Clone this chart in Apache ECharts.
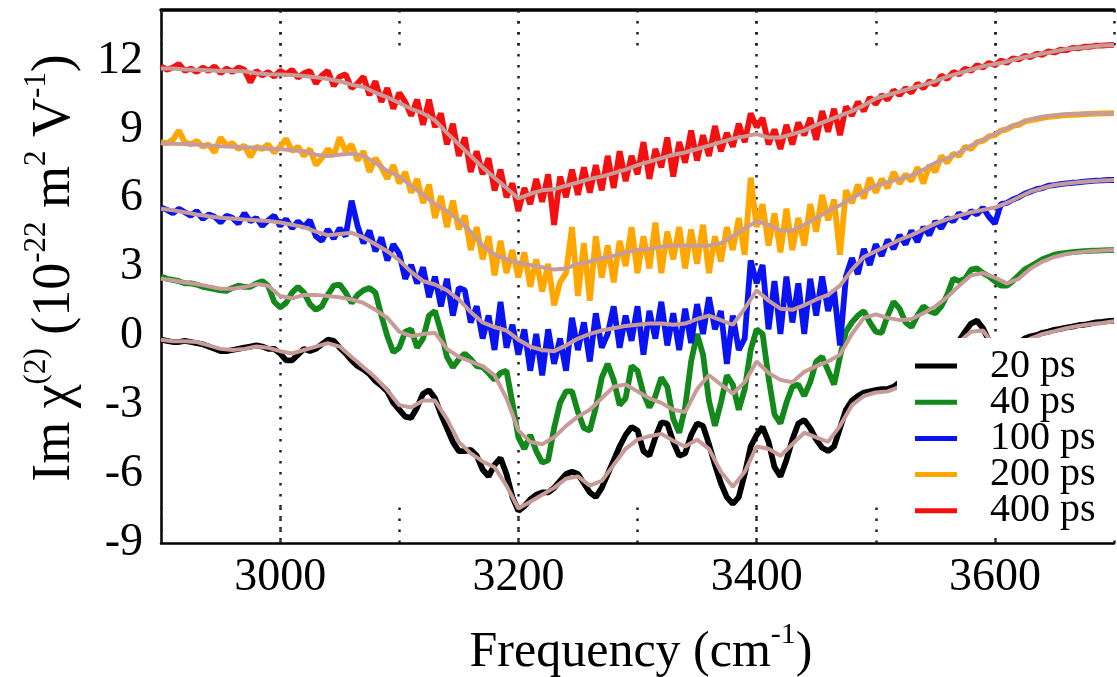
<!DOCTYPE html>
<html><head><meta charset="utf-8">
<script src="https://cdn.jsdelivr.net/npm/echarts@6/dist/echarts.min.js"></script>
<style>html,body{margin:0;padding:0;background:#fff;overflow:hidden}#c{width:1117px;height:677px}</style>
</head><body><div id="c"></div><script>
// Frequency grids (cm^-1)
const freqRaw = [2900,2905,2910,2915,2920,2925,2930,2935,2940,2945,2950,2955,2960,2965,2970,2975,2980,2985,2990,2995,
3000,3005,3010,3015,3020,3025,3030,3035,3040,3045,3050,3055,3060,3065,3070,3075,3080,3085,3090,3095,
3100,3105,3110,3115,3120,3125,3130,3135,3140,3145,3150,3155,3160,3165,3170,3175,3180,3185,3190,3195,
3200,3205,3210,3215,3220,3225,3230,3235,3240,3245,3250,3255,3260,3265,3270,3275,3280,3285,3290,3295,
3300,3305,3310,3315,3320,3325,3330,3335,3340,3345,3350,3355,3360,3365,3370,3375,3380,3385,3390,3395,
3400,3405,3410,3415,3420,3425,3430,3435,3440,3445,3450,3455,3460,3465,3470,3475,3480,3485,3490,3495,
3500,3505,3510,3515,3520,3525,3530,3535,3540,3545,3550,3555,3560,3565,3570,3575,3580,3585,3590,3595,
3600,3605,3610,3615,3620,3625,3630,3635,3640,3645,3650,3655,3660,3665,3670,3675,3680,3685,3690,3695,3700];
const freqSmooth = [2900,2910,2920,2930,2940,2950,2960,2970,2980,2990,3000,3010,3020,3030,3040,3050,3060,3070,3080,3090,
3100,3110,3120,3130,3140,3150,3160,3170,3180,3190,3200,3210,3220,3230,3240,3250,3260,3270,3280,3290,
3300,3310,3320,3330,3340,3350,3360,3370,3380,3390,3400,3410,3420,3430,3440,3450,3460,3470,3480,3490,
3500,3510,3520,3530,3540,3550,3560,3570,3580,3590,3600,3610,3620,3630,3640,3650,3660,3670,3680,3690,3700];

// Raw spectra (Im chi2, 1e-22 m^2/V)
const raw20 = [-0.15,-0.2,-0.25,-0.25,-0.2,-0.25,-0.3,-0.35,-0.45,-0.55,
-0.65,-0.65,-0.6,-0.55,-0.5,-0.45,-0.4,-0.45,-0.55,-0.55,
-0.75,-1.05,-1.05,-0.8,-0.55,-0.65,-0.55,-0.35,-0.15,-0.2,
-0.5,-0.75,-1.05,-1.3,-1.45,-1.65,-1.95,-2.15,-2.4,-2.9,
-3.2,-3.5,-3.55,-3.1,-2.5,-2.35,-2.7,-3.4,-4.0,-4.6,
-5.0,-5.0,-4.95,-5.2,-5.8,-6.1,-5.6,-5.3,-6.0,-7.0,
-7.6,-7.4,-7.1,-6.9,-6.8,-6.8,-6.6,-6.3,-6.0,-5.9,
-6.0,-6.4,-6.8,-7.0,-6.6,-6.0,-5.4,-4.8,-4.3,-3.95,
-4.1,-5.0,-5.2,-4.4,-3.75,-3.8,-4.6,-5.2,-5.1,-4.3,
-3.8,-3.9,-4.7,-5.6,-6.4,-7.0,-7.3,-7.0,-6.0,-4.8,
-4.3,-3.95,-4.6,-5.7,-6.1,-5.4,-4.5,-3.8,-3.65,-4.0,
-4.5,-4.85,-5.0,-4.8,-4.0,-3.2,-2.8,-2.6,-2.45,-2.4,
-2.35,-2.3,-2.3,-2.2,-2.0,-1.85,-1.7,-1.55,-1.4,-1.2,
-1.0,-0.8,-0.6,-0.45,-0.2,0.2,0.55,0.68,0.35,-0.2,
-0.6,-0.8,-0.75,-0.55,-0.3,-0.1,0.0,0.05,0.15,0.2,
0.28,0.32,0.38,0.42,0.48,0.5,0.55,0.6,0.62,0.66,0.68];
const raw40 = [2.6,2.5,2.45,2.4,2.3,2.3,2.25,2.15,2.1,2.05,
2.0,1.98,2.1,2.2,2.15,2.15,2.3,2.4,2.2,1.5,
1.25,1.45,1.9,2.15,1.9,1.4,1.15,1.3,1.8,2.2,
2.25,1.9,1.45,1.8,2.0,2.1,1.9,0.9,0.0,-0.7,
-0.5,0.2,0.3,-0.5,-0.1,0.9,1.1,0.2,-0.9,-1.35,
-1.0,-0.75,-1.0,-1.3,-1.35,-1.6,-1.9,-1.6,-1.5,-2.9,
-4.4,-4.9,-4.3,-5.0,-5.5,-5.4,-4.0,-2.9,-2.4,-2.4,
-3.3,-4.0,-4.1,-3.1,-1.8,-1.2,-1.9,-3.0,-2.7,-1.3,
-1.5,-2.5,-3.1,-2.6,-1.8,-2.2,-3.6,-4.2,-3.1,-1.1,
0.1,-0.8,-2.8,-3.9,-2.9,-1.7,-2.1,-3.2,-2.3,-0.6,
0.3,0.1,-1.8,-3.4,-3.8,-2.9,-2.2,-2.1,-2.6,-2.0,
-1.1,-0.9,-1.5,-2.1,-0.9,0.2,0.6,0.9,1.1,0.6,
0.2,0.15,0.9,1.5,1.2,0.6,0.4,0.9,1.3,1.1,
1.0,1.3,1.8,2.5,2.4,2.5,2.9,2.95,2.75,2.6,
2.4,2.2,2.2,2.4,2.65,2.9,3.05,3.2,3.35,3.45,
3.55,3.6,3.63,3.66,3.68,3.7,3.72,3.73,3.74,3.75,3.75];
const raw100 = [5.6,5.5,5.35,5.55,5.4,5.25,5.45,5.1,5.3,5.2,
4.95,5.25,5.15,4.9,5.35,5.0,5.15,4.8,5.05,5.25,
4.8,5.1,4.7,5.0,4.75,5.05,4.35,4.15,4.65,4.25,
4.7,4.35,5.9,4.8,4.05,4.6,3.7,4.3,3.3,4.0,
3.6,2.5,3.1,2.3,3.0,1.7,2.6,1.3,2.5,0.9,
2.1,2.0,0.6,1.3,-0.1,0.9,-0.6,1.5,-0.5,0.5,
-0.8,0.3,-1.5,0.1,-1.7,0.3,-1.2,-0.1,-1.5,0.8,
-0.6,0.6,-1.1,1.0,-0.5,0.1,1.3,-0.5,0.9,-0.2,
1.3,-0.8,1.1,-0.1,1.5,-0.4,1.0,-0.6,1.2,-0.3,
1.4,0.1,1.7,0.3,1.1,-1.2,0.9,-0.6,-0.1,3.3,
2.3,3.1,0.3,2.4,0.1,2.6,0.6,2.3,0.1,2.5,
0.9,2.6,1.1,2.0,-0.4,2.6,3.4,2.7,3.8,3.1,
4.0,3.5,4.2,3.8,4.4,4.0,4.6,4.1,4.75,4.4,
5.0,4.7,5.15,5.0,5.35,5.15,5.45,5.3,5.6,5.2,
4.9,5.75,5.8,5.95,6.05,6.2,6.3,6.4,6.45,6.55,
6.58,6.62,6.65,6.68,6.7,6.73,6.75,6.77,6.78,6.8,6.8];
const raw200 = [8.45,8.4,8.55,8.95,8.45,8.35,8.5,8.25,8.35,8.0,
8.65,8.3,8.4,8.15,8.3,7.8,8.25,8.15,8.35,8.0,
8.25,8.6,8.05,8.25,7.85,8.15,7.45,7.75,8.15,7.85,
8.65,8.05,8.35,7.65,8.05,7.15,7.75,7.35,6.85,7.45,
6.65,7.15,6.25,6.85,5.8,6.6,5.15,6.1,4.75,5.9,
4.65,5.25,3.75,4.75,3.35,4.35,2.65,4.15,2.75,3.75,
2.55,3.65,2.15,3.35,1.95,3.15,1.35,2.35,2.75,4.75,
1.75,4.05,1.55,4.35,2.55,3.95,2.35,4.15,3.05,4.75,
2.75,4.35,2.95,4.95,2.75,4.55,3.35,4.75,2.95,4.65,
3.15,4.85,2.75,4.35,3.25,4.75,3.75,5.15,3.55,6.9,
4.75,5.75,3.95,5.35,3.65,5.55,3.75,5.15,3.95,5.75,
4.55,6.15,5.05,5.95,3.55,6.35,5.8,6.6,6.0,6.9,
6.25,6.85,6.45,7.15,6.65,7.05,6.75,7.35,6.65,7.45,
7.15,7.85,7.55,7.95,7.85,8.25,8.15,8.45,8.5,8.7,
8.75,8.95,9.0,9.15,9.2,9.35,9.4,9.45,9.5,9.55,
9.57,9.6,9.62,9.64,9.65,9.67,9.68,9.69,9.7,9.7,9.71];
const raw400 = [11.75,11.6,11.7,11.85,11.55,11.65,11.5,11.7,11.55,11.75,
11.45,11.65,11.5,11.7,11.6,11.05,11.55,11.35,11.5,11.3,
11.55,11.4,11.6,11.25,11.45,11.55,11.0,11.35,11.55,10.9,
11.3,11.4,10.8,11.0,11.3,10.5,11.1,10.2,10.8,9.9,
10.6,10.2,9.6,10.3,9.2,10.3,9.1,9.7,8.35,9.25,
7.85,8.65,7.15,8.05,7.05,7.75,6.35,7.25,6.05,6.65,
5.45,6.45,5.75,6.85,5.85,7.05,4.85,6.95,6.05,7.25,
6.15,7.35,6.25,7.45,6.35,7.85,6.45,8.05,6.75,7.85,
7.05,8.45,6.85,8.15,7.35,8.65,6.95,8.45,7.55,8.95,
7.65,8.75,7.85,9.15,8.05,8.85,8.25,9.25,8.45,9.7,
9.1,9.5,8.35,9.0,8.15,9.2,8.35,9.3,8.75,9.5,
8.55,9.8,8.9,9.9,8.75,10.0,9.6,10.2,9.8,10.4,
10.1,10.5,10.3,10.7,10.5,10.8,10.6,11.0,10.8,11.1,
10.95,11.35,11.2,11.5,11.4,11.65,11.55,11.8,11.7,11.9,
11.8,12.0,11.9,12.1,12.05,12.2,12.15,12.3,12.25,12.4,
12.35,12.47,12.45,12.55,12.53,12.6,12.6,12.65,12.65,12.67,12.68];

// Smoothed spectra
const smooth20 = [-0.15,-0.22,-0.22,-0.25,-0.4,-0.55,-0.6,-0.55,-0.45,-0.5,
-0.65,-0.75,-0.6,-0.45,-0.3,-0.45,-0.9,-1.35,-1.8,-2.35,
-3.0,-3.1,-2.8,-2.8,-3.6,-4.6,-5.1,-5.45,-5.7,-6.5,
-7.5,-7.2,-6.9,-6.6,-6.2,-6.1,-6.5,-6.3,-5.6,-4.9,
-4.5,-4.35,-4.25,-4.55,-4.8,-4.5,-4.9,-5.9,-6.55,-5.9,
-4.8,-4.9,-5.2,-4.7,-4.2,-4.4,-4.6,-3.9,-3.0,-2.6,
-2.45,-2.4,-2.2,-1.8,-1.5,-1.1,-0.7,-0.25,0.2,0.25,
-0.45,-0.6,-0.35,-0.1,0.1,0.22,0.35,0.45,0.52,0.58,0.65];
const smooth40 = [2.5,2.44,2.34,2.27,2.17,2.07,2.07,2.14,2.27,2.2,
1.75,1.65,1.8,1.8,1.75,1.7,1.6,1.45,1.15,0.8,
0.2,0.0,0.1,0.15,-0.55,-0.9,-1.1,-1.3,-1.7,-2.7,
-4.1,-4.6,-4.7,-4.4,-3.9,-3.5,-3.2,-2.7,-2.2,-2.1,
-2.4,-2.7,-2.9,-3.2,-3.3,-2.3,-1.7,-2.1,-2.5,-2.0,
-1.1,-1.6,-1.9,-2.0,-1.55,-1.3,-1.1,-0.8,0.1,0.8,
0.95,0.8,0.7,0.75,1.0,1.3,1.7,2.2,2.65,2.75,
2.55,2.3,2.5,2.95,3.25,3.45,3.58,3.65,3.7,3.73,3.75];
const smooth100 = [5.55,5.48,5.4,5.3,5.22,5.16,5.12,5.08,5.05,5.02,
4.95,4.85,4.75,4.55,4.4,4.45,4.5,4.3,4.0,3.7,
3.3,2.8,2.4,2.25,2.0,1.6,1.05,0.6,0.4,0.25,
-0.15,-0.45,-0.6,-0.65,-0.4,-0.1,0.1,0.25,0.35,0.45,
0.5,0.55,0.55,0.5,0.55,0.75,0.9,0.7,0.5,1.2,
2.0,1.55,1.2,1.15,1.35,1.6,1.8,2.2,2.9,3.45,
3.7,3.95,4.2,4.4,4.65,4.9,5.1,5.25,5.4,5.5,
5.6,5.8,6.05,6.3,6.45,6.58,6.65,6.7,6.75,6.78,6.8];
const smooth200 = [8.4,8.38,8.37,8.35,8.3,8.27,8.25,8.23,8.2,8.15,
8.15,8.1,8.05,7.9,7.85,7.9,7.95,7.85,7.55,7.2,
6.95,6.55,6.15,5.75,5.45,5.05,4.55,3.95,3.55,3.35,
3.2,3.1,3.0,2.9,2.95,3.15,3.25,3.4,3.5,3.65,
3.75,3.8,3.9,3.95,3.95,3.95,3.95,4.05,4.35,4.7,
5.0,4.85,4.6,4.6,4.85,5.15,5.45,5.7,6.0,6.3,
6.55,6.7,6.85,7.0,7.25,7.55,7.75,8.0,8.3,8.55,
8.8,9.05,9.25,9.45,9.55,9.62,9.66,9.68,9.69,9.7,9.71];
const smooth400 = [11.65,11.65,11.61,11.6,11.58,11.55,11.55,11.53,11.45,11.4,
11.39,11.37,11.33,11.27,11.2,11.1,10.95,10.85,10.6,10.4,
10.15,9.9,9.7,9.4,8.85,8.35,7.85,7.35,6.9,6.45,
6.0,6.2,6.35,6.4,6.55,6.7,6.85,6.95,7.1,7.25,
7.45,7.6,7.75,7.9,8.0,8.15,8.3,8.45,8.6,8.7,
8.8,8.65,8.65,8.8,8.95,9.2,9.4,9.6,9.8,10.05,
10.35,10.5,10.65,10.8,10.95,11.1,11.3,11.45,11.6,11.75,
11.85,11.95,12.1,12.2,12.3,12.4,12.5,12.55,12.6,12.65,12.68];

const seriesNames = ['20 ps','40 ps','100 ps','200 ps','400 ps'];
const rawData = [raw20, raw40, raw100, raw200, raw400];
const smoothData = [smooth20, smooth40, smooth100, smooth200, smooth400];
const xTickLabels = [3000, 3200, 3400, 3600];

const colors = ['#000000', '#12891a', '#0a14f2', '#ffa600', '#f51010'];
const smoothColor = '#c79b97';
const FONT = "'Liberation Serif','Times New Roman',serif";
const pair = (xs, ys) => xs.map((x, i) => [x, ys[i]]);

const chart = echarts.init(document.getElementById('c'), null, {renderer: 'canvas', width: 1117, height: 677});

const dotted = {color: '#222', width: 2.5, type: [2.5, 8.5], cap: 'butt'};

const series = [];
rawData.forEach((d, i) => series.push({
  name: seriesNames[i], type: 'line', data: pair(freqRaw, d), showSymbol: false, symbol: 'none',
  lineStyle: {color: colors[i], width: 5.8}, itemStyle: {color: colors[i]}, z: 2, silent: true
}));
smoothData.forEach((d, i) => series.push({
  name: seriesNames[i] + ' smooth', type: 'line', data: pair(freqSmooth, d), showSymbol: false, symbol: 'none',
  lineStyle: {color: smoothColor, width: 4}, itemStyle: {color: smoothColor}, z: 3, silent: true
}));

const richY = {
  a: {fontFamily: FONT, fontSize: 54, lineHeight: 58, padding: [10, 0, 0, 0], fill: '#000'},
  s: {fontFamily: FONT, fontSize: 31, lineHeight: 18, verticalAlign: 'top', fill: '#000'}
};
const richX = {
  a: {fontFamily: FONT, fontSize: 50, lineHeight: 56, padding: [10, 0, 0, 0], fill: '#000'},
  s: {fontFamily: FONT, fontSize: 30, lineHeight: 18, verticalAlign: 'top', fill: '#000'}
};

chart.setOption({
  animation: false,
  backgroundColor: '#fff',
  grid: {left: 161, top: 10, right: -6.6, bottom: 134, containLabel: false},
  xAxis: [{
    type: 'value', position: 'bottom', min: 2900, max: 3700, interval: 100,
    axisLine: {onZero: false, lineStyle: {color: '#000', width: 2.5}},
    axisTick: {show: true, inside: true, length: 36, lineStyle: dotted},
    axisLabel: {show: true, margin: 12, fontSize: 46, fontFamily: FONT, color: '#000',
      formatter: v => xTickLabels.indexOf(v) >= 0 ? String(v) : ''},
    splitLine: {show: true, lineStyle: {color: ['rgba(0,0,0,0)', '#222'], width: 2.5, type: [2.5, 8.5], cap: 'butt'}}
  }, {
    type: 'value', position: 'top', min: 2900, max: 3700, interval: 100,
    axisLine: {onZero: false, lineStyle: {color: '#000', width: 3.5}},
    axisTick: {show: true, inside: true, length: 36, lineStyle: dotted},
    axisLabel: {show: false}, splitLine: {show: false}
  }],
  yAxis: {
    type: 'value', min: -9, max: 14.2, interval: 3,
    axisLine: {show: true, onZero: false, lineStyle: {color: '#000', width: 2.5}},
    axisTick: {show: false},
    axisLabel: {margin: 18, fontSize: 46, fontFamily: FONT, color: '#000', showMaxLabel: false,
      formatter: v => (v <= 12 && Math.abs(v % 3) < 1e-6) ? String(v) : ''},
    splitLine: {show: false}
  },
  legend: {
    data: seriesNames, orient: 'vertical', left: 897, top: 338,
    padding: [8, 40, 4, 18], itemWidth: 42, itemHeight: 5, itemGap: -3.8, icon: 'rect',
    backgroundColor: '#fff', selectedMode: false, z: 10,
    textStyle: {fontSize: 40, fontFamily: FONT, color: '#000', lineHeight: 32, padding: [0, 0, 0, 28]}
  },
  graphic: [{
    type: 'text', x: 641, y: 648, z: 20,
    style: {
      text: '{a|Frequency (cm}{s|-1}{a|)}', align: 'center', verticalAlign: 'middle',
      fontFamily: FONT, fontSize: 50, fill: '#000', rich: richX
    }
  }, {
    type: 'text', x: 50, y: 268, rotation: Math.PI / 2, z: 20,
    style: {
      text: '{a|Im }{a|\u03c7}{s|(2)}{a| (10}{s|-22}{a| m}{s|2}{a| V}{s|-1}{a|)}',
      align: 'center', verticalAlign: 'middle', fontFamily: FONT, fontSize: 54, fill: '#000', rich: richY
    }
  }],
  series: series
});
</script></body></html>
